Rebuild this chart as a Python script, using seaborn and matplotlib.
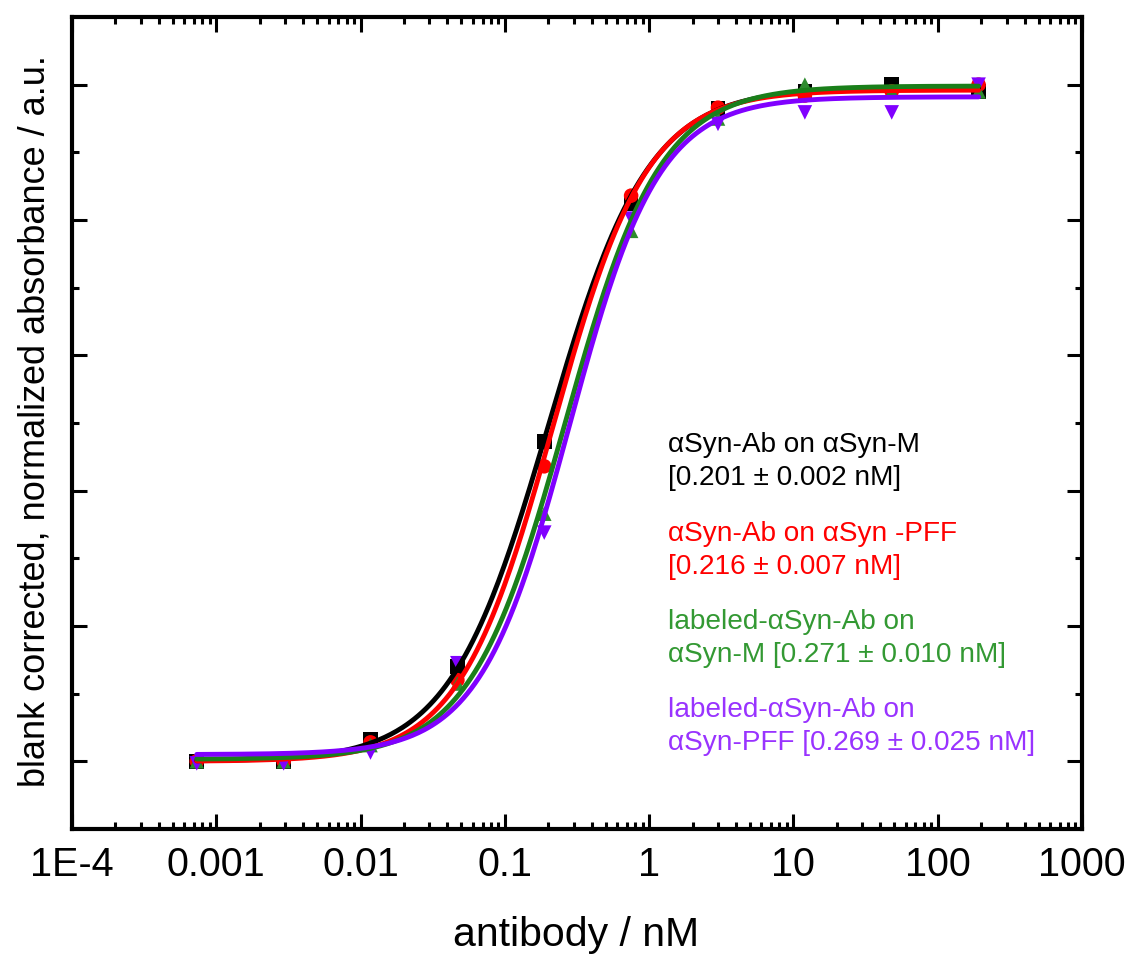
import numpy as np
import pandas as pd
import matplotlib
matplotlib.use("Agg")
import matplotlib.pyplot as plt
import seaborn as sns
from matplotlib import font_manager as fm
from matplotlib.ticker import FixedLocator, FixedFormatter, LogLocator, NullFormatter

# ---------------- data ----------------
conc = [0.000732421875, 0.0029296875, 0.01171875, 0.046875, 0.1875, 0.75, 3.0, 12.0, 48.0, 192.0]

series_names = ["aSyn-Ab on aSyn-M", "aSyn-Ab on aSyn-PFF",
                "labeled-aSyn-Ab on aSyn-M", "labeled-aSyn-Ab on aSyn-PFF"]

y_black = [0.000, 0.000, 0.032, 0.140, 0.473, 0.824, 0.965, 0.990, 1.000, 0.990]
y_red = [0.000, 0.000, 0.028, 0.120, 0.436, 0.836, 0.966, 0.984, 0.990, 1.000]
y_green = [0.000, 0.000, 0.024, 0.115, 0.366, 0.784, 0.950, 1.000, 0.990, 0.990]
y_purple = [-0.003, -0.003, 0.013, 0.145, 0.338, 0.802, 0.942, 0.959, 0.959, 1.000]

# Hill fit parameters (bottom, top, EC50 / nM, Hill slope)
fit_bottom = [0.000, 0.000, 0.003, 0.010]
fit_top = [0.995, 0.992, 0.998, 0.982]
fit_ec50 = [0.201, 0.216, 0.262, 0.280]
fit_n = [1.26, 1.33, 1.32, 1.40]

legend_lines = [
    "\u03b1Syn-Ab on \u03b1Syn-M\n[0.201 \u00b1 0.002 nM]",
    "\u03b1Syn-Ab on \u03b1Syn -PFF\n[0.216 \u00b1 0.007 nM]",
    "labeled-\u03b1Syn-Ab on\n\u03b1Syn-M [0.271 \u00b1 0.010 nM]",
    "labeled-\u03b1Syn-Ab on\n\u03b1Syn-PFF [0.269 \u00b1 0.025 nM]",
]

x_ticks = [1e-4, 1e-3, 1e-2, 1e-1, 1, 10, 100, 1000]
x_tick_labels = ["1E-4", "0.001", "0.01", "0.1", "1", "10", "100", "1000"]
y_major = [0.0, 0.2, 0.4, 0.6, 0.8, 1.0]
y_minor = [0.1, 0.3, 0.5, 0.7, 0.9]

# ---------------- style ----------------
line_colors = ["#000000", "#ff0000", "#1a7f1a", "#8000ff"]
marker_colors = ["#000000", "#ff0000", "#2e8b2e", "#8000ff"]
text_colors = ["#000000", "#ff0000", "#339933", "#9933ff"]
markers = ["s", "o", "^", "v"]

sns.set_theme(style="white")
available = {f.name for f in fm.fontManager.ttflist}
narrow = "Liberation Sans Narrow" if "Liberation Sans Narrow" in available else None
plt.rcParams["font.family"] = ["Liberation Sans", "DejaVu Sans"]

fig = plt.figure(figsize=(11.32, 9.57), dpi=100)
ax = fig.add_axes([72 / 1132, 1 - 829 / 957, 1010 / 1132, 812 / 957])

ys = [y_black, y_red, y_green, y_purple]
rows = []
for name, yv in zip(series_names, ys):
    for c, v in zip(conc, yv):
        rows.append({"conc": c, "signal": v, "series": name})
df = pd.DataFrame(rows)

xfit = np.logspace(np.log10(conc[0]), np.log10(conc[-1]), 400)
fit_rows = []
for i, name in enumerate(series_names):
    yfit = fit_bottom[i] + (fit_top[i] - fit_bottom[i]) / (1 + (fit_ec50[i] / xfit) ** fit_n[i])
    for xv, yv in zip(xfit, yfit):
        fit_rows.append({"conc": xv, "signal": yv, "series": name})
dfit = pd.DataFrame(fit_rows)

for i, name in enumerate(series_names):
    sns.scatterplot(data=df[df.series == name], x="conc", y="signal", ax=ax,
                    marker=markers[i], color=marker_colors[i], s=110,
                    edgecolor="none", zorder=2, legend=False)
for i, name in enumerate(series_names):
    sns.lineplot(data=dfit[dfit.series == name], x="conc", y="signal", ax=ax,
                 color=line_colors[i], linewidth=3.5, zorder=3, legend=False,
                 estimator=None, sort=True)

ax.set_xscale("log")
ax.set_xlim(1e-4, 1e3)
ax.set_ylim(-0.1, 1.1)

ax.xaxis.set_major_locator(FixedLocator(x_ticks))
ax.xaxis.set_major_formatter(FixedFormatter(x_tick_labels))
ax.xaxis.set_minor_locator(LogLocator(base=10, subs=np.arange(2, 10)))
ax.xaxis.set_minor_formatter(NullFormatter())
ax.yaxis.set_major_locator(FixedLocator(y_major))
ax.yaxis.set_minor_locator(FixedLocator(y_minor))
ax.set_yticklabels([])

ax.tick_params(which="both", direction="in", top=True, right=True,
               bottom=True, left=True, color="black")
ax.tick_params(which="major", length=11, width=2.2)
ax.tick_params(which="minor", length=5, width=2.2)
ax.tick_params(axis="x", which="major", pad=12)

for lab in ax.get_xticklabels():
    if narrow:
        lab.set_family([narrow, "Liberation Sans", "DejaVu Sans"])
        lab.set_fontsize(33)
    else:
        lab.set_fontsize(28.5)
    lab.set_color("black")

for sp in ax.spines.values():
    sp.set_visible(True)
    sp.set_color("black")
    sp.set_linewidth(3.0)

ax.set_xlabel("antibody / nM", fontsize=29.5, color="black")
ax.set_ylabel("blank corrected, normalized absorbance / a.u.", fontsize=26, color="black")
ax.xaxis.set_label_coords((576 - 72) / 1010, (829 - 935) / 812)
ax.xaxis.label.set_va("center")
ax.yaxis.set_label_coords((35 - 72) / 1010, (829 - 421) / 812)
ax.yaxis.label.set_va("center")

centers = [461, 550.5, 638.5, 726.5]
for txt, col, cy in zip(legend_lines, text_colors, centers):
    ax.text((668 - 72) / 1010, (829 - cy) / 812, txt, transform=ax.transAxes,
            color=col, fontsize=20.2, ha="left", va="center", linespacing=1.35)

fig.savefig("out.png", dpi=100, facecolor="white")
